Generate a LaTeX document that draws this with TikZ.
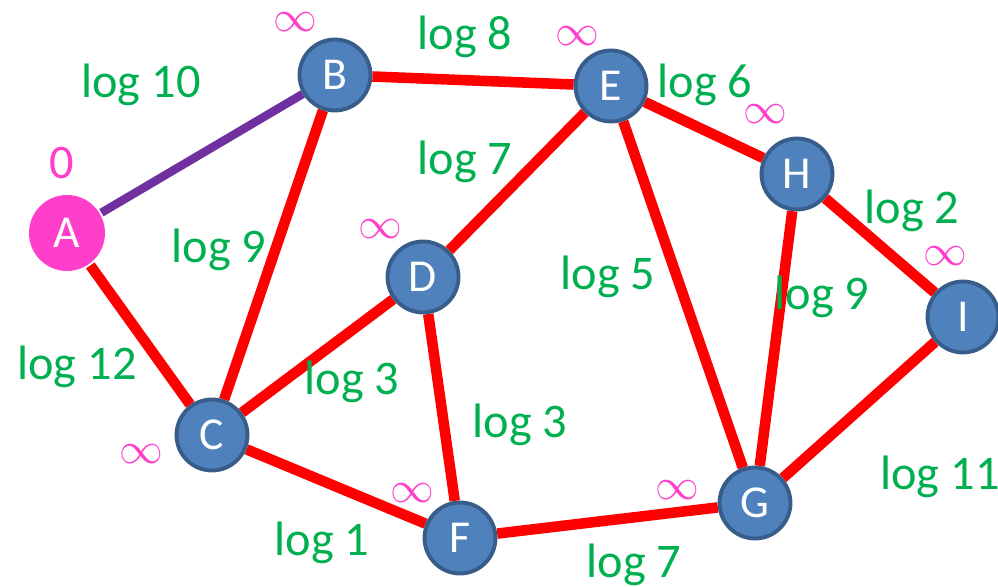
\documentclass[tikz,border=0pt]{standalone}
\usepackage{fontspec}
\setmainfont{Carlito}
\usetikzlibrary{positioning,backgrounds}

\definecolor{nodeblue}{HTML}{4F81BD}
\definecolor{nodeedge}{HTML}{385D8A}
\definecolor{startpink}{HTML}{FF3FCC}
\definecolor{labgreen}{HTML}{00B050}
\definecolor{treepurple}{HTML}{7030A0}

\begin{document}
\begin{tikzpicture}[x=0.02cm,y=-0.02cm]
    \tikzset{vertex/.style= {draw=nodeedge, circle
    , fill=nodeblue
    , line width=2.2pt
    , minimum size=1.42cm
    , inner sep=0pt
    , text=white
    , font=\fontsize{26}{30}\selectfont
      }
    , weight/.style={text=labgreen, inner sep=1pt, font=\fontsize{27.5}{30}\selectfont}
    , dist/.style={text=startpink, inner sep=0pt, font=\fontsize{27.5}{30}\selectfont}
    , edge/.style={draw=red, line width=6pt}
    }
\useasboundingbox (0,0) rectangle (998,587);

\node [vertex, draw=none, fill=startpink, minimum size=1.52cm] (A) at (67,233) {A};
\node [vertex] (B) at (335,75) {B};
\node [vertex] (E) at (611,86) {E};
\node [vertex] (H) at (797,174) {H};
\node [vertex] (I) at (963,317) {I};
\node [vertex] (D) at (423,277) {D};
\node [vertex] (C) at (212,435) {C};
\node [vertex] (F) at (460,538) {F};
\node [vertex] (G) at (755,503) {G};

\begin{scope}[on background layer]
 \path[edge]
  (A) -- (C) -- (B) -- (E) -- (D) -- (C) -- (F) -- (G) -- (I) -- (H) -- (E) -- (G) -- (H)
  (D) -- (F);
 \path[edge, draw=treepurple, line width=4.8pt] (A) -- (B);
\end{scope}

\node [dist] (dA) at (62,163) {0};
\node [dist] (dB) at (295,22) {$\infty$};
\node [dist] (dE) at (577,36) {$\infty$};
\node [dist] (dH) at (765,114) {$\infty$};
\node [dist] (dD) at (380,229) {$\infty$};
\node [dist] (dI) at (945,256) {$\infty$};
\node [dist] (dC) at (141,454) {$\infty$};
\node [dist] (dF) at (412,493) {$\infty$};
\node [dist] (dG) at (677,490) {$\infty$};

\node [weight] (wAB) at (141,85) {log 10};
\node [weight] (wBE) at (465,37) {log 8};
\node [weight] (wEH) at (705,85) {log 6};
\node [weight] (wED) at (465,162) {log 7};
\node [weight] (wBC) at (219,250) {log 9};
\node [weight] (wEG) at (608,277) {log 5};
\node [weight] (wHI) at (912,211) {log 2};
\node [weight] (wHG) at (822,297) {log 9};
\node [weight] (wAC) at (77,367) {log 12};
\node [weight] (wCD) at (352,382) {log 3};
\node [weight] (wDF) at (520,425) {log 3};
\node [weight] (wGI) at (940,477) {log 11};
\node [weight] (wCF) at (322,543) {log 1};
\node [weight] (wFG) at (634,565) {log 7};

\end{tikzpicture}
\end{document}
